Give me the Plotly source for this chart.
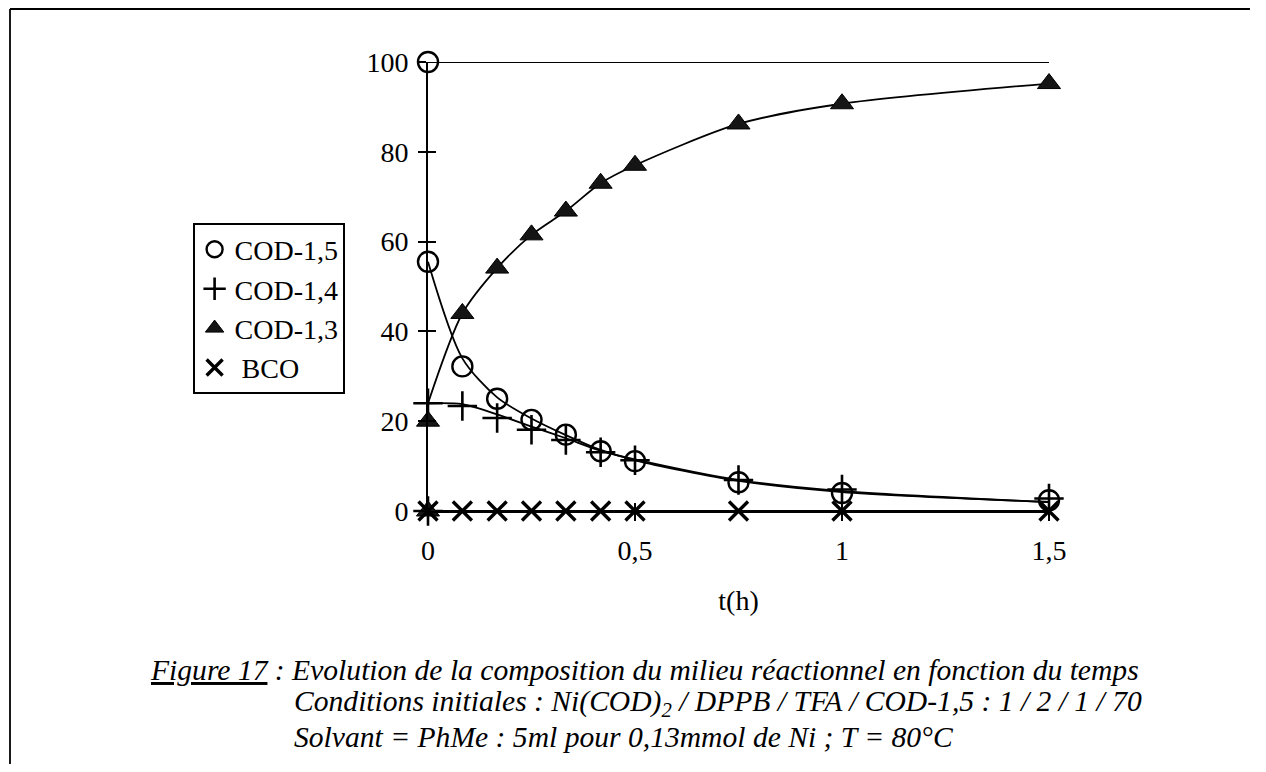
import plotly.graph_objects as go

# ---- data ----
t = [0, 0.083, 0.167, 0.25, 0.333, 0.417, 0.5, 0.75, 1, 1.5]
cod15 = [55.5, 32.2, 25.0, 20.3, 17.0, 13.3, 11.1, 6.4, 4.0, 2.4]
cod14 = [24.0, 23.4, 20.7, 18.1, 15.8, 13.1, 11.3, 6.9, 4.8, 2.8]
cod13 = [20.0, 44.0, 54.1, 61.5, 66.8, 73.0, 77.0, 86.2, 90.7, 95.2]
bco = [0, 0, 0, 0, 0, 0, 0, 0, 0, 0]

# initial composition at t = 0
t_init = [0]
cod15_init = [100]
cod14_init = [0]
cod13_init = [0]

# smoothed curves as drawn
cod15_curve = [55.5, 34.0, 25.3, 20.6, 16.9, 13.6, 11.3, 6.7, 4.2, 2.0]
cod14_curve = [24.0, 23.8, 21.5, 18.8, 16.2, 13.4, 11.5, 6.9, 4.4, 2.0]
cod13_curve = [24.0, 44.0, 54.1, 61.5, 66.8, 73.0, 77.0, 86.2, 90.7, 95.2]

t_total = [0, 1.5]
total = [100, 100]

x_ticks = [0, 0.5, 1, 1.5]
x_ticktext = ["0", "0,5", "1", "1,5"]
y_ticks = [0, 20, 40, 60, 80, 100]

series_names = ["COD-1,5", "COD-1,4", "COD-1,3", "\u00a0BCO"]

# ---- layout geometry (page has an 8px body margin) ----
OFF = 8
W, H = 1250, 756
L, T = 428 - OFF, 62 - OFF
PW, PH = 1049 - 428, 511 - 62
R, B = W - L - PW, H - T - PH


def px(xp):
    return (xp - OFF - L) / PW


def py(yp):
    return (T + PH - (yp - OFF)) / PH


FONT = "Liberation Serif"
BLACK = "#000000"
FS = 28

fig = go.Figure()

# curves (no legend)
for ys in [cod15_curve, cod14_curve, cod13_curve]:
    fig.add_trace(go.Scatter(x=t, y=ys, mode="lines", line=dict(color=BLACK, width=1.8, shape="spline", smoothing=0.8),
                             showlegend=False, hoverinfo="skip"))
fig.add_trace(go.Scatter(x=t_total, y=total, mode="lines", line=dict(color=BLACK, width=1.8),
                         showlegend=False, hoverinfo="skip"))
fig.add_trace(go.Scatter(x=t, y=bco, mode="lines", line=dict(color=BLACK, width=1.8),
                         showlegend=False, hoverinfo="skip"))

# markers
fig.add_trace(go.Scatter(x=t_init + t, y=cod15_init + cod15, mode="markers", name=series_names[0],
                         marker=dict(symbol="circle-open", size=20, color=BLACK, line=dict(width=2.4, color=BLACK)),
                         cliponaxis=False))
fig.add_trace(go.Scatter(x=t_init + t, y=cod14_init + cod14, mode="markers", name=series_names[1],
                         marker=dict(symbol="cross-thin-open", size=21, color=BLACK, line=dict(width=2.6, color=BLACK)),
                         cliponaxis=False))
fig.add_trace(go.Scatter(x=t_init + t, y=cod13_init + cod13, mode="markers", name=series_names[2],
                         marker=dict(symbol="triangle-up", size=20, color="#151515", line=dict(width=1, color=BLACK)),
                         cliponaxis=False))
fig.add_trace(go.Scatter(x=t, y=bco, mode="markers", name=series_names[3],
                         marker=dict(symbol="x-thin-open", size=19, color=BLACK, line=dict(width=3.4, color=BLACK)),
                         cliponaxis=False))

fig.update_layout(
    width=W, height=H,
    margin=dict(l=L, r=R, t=T, b=B, pad=0),
    paper_bgcolor="white", plot_bgcolor="white",
    font=dict(family=FONT, size=FS, color=BLACK),
    xaxis=dict(range=[0, 1.5], tickvals=x_ticks, ticktext=x_ticktext, showgrid=False, zeroline=False,
               showline=True, linecolor=BLACK, linewidth=1.8, ticks="outside", ticklen=8, tickwidth=1.8,
               tickcolor=BLACK, tickfont=dict(family=FONT, size=FS), ticklabelstandoff=5,
               title=dict(text="t(h)", font=dict(family=FONT, size=FS), standoff=26)),
    yaxis=dict(range=[0, 100], tickvals=y_ticks, showgrid=False, zeroline=False,
               showline=True, linecolor=BLACK, linewidth=1.8, ticks="outside", ticklen=8, tickwidth=1.8,
               tickcolor=BLACK, tickfont=dict(family=FONT, size=FS), ticklabelstandoff=4),
    xaxis2=dict(range=[0, 1.5], overlaying="x", side="bottom", anchor="y", tickvals=x_ticks[1:],
                showticklabels=False, showgrid=False, zeroline=False, showline=False,
                ticks="inside", ticklen=8, tickwidth=1.8, tickcolor=BLACK),
    yaxis2=dict(range=[0, 100], overlaying="y", side="left", anchor="x", tickvals=y_ticks[1:-1],
                showticklabels=False, showgrid=False, zeroline=False, showline=False,
                ticks="inside", ticklen=8, tickwidth=1.8, tickcolor=BLACK),
    legend=dict(x=px(193), y=py(223), xanchor="left", yanchor="top", bgcolor="white",
                bordercolor=BLACK, borderwidth=1.6, font=dict(family=FONT, size=FS, color=BLACK),
                itemwidth=30, tracegroupgap=0),
    showlegend=True,
)

# dummy trace to activate secondary axes (crossing ticks)
fig.add_trace(go.Scatter(x=[None], y=[None], xaxis="x2", yaxis="y2", showlegend=False, hoverinfo="skip"))

caption_lines = [
    "<i><u>Figure 17</u> : Evolution de la composition du milieu réactionnel en fonction du temps</i>",
    "<i>Conditions initiales : Ni(COD)<sub>2</sub> / DPPB / TFA / COD-1,5 : 1 / 2 / 1 / 70</i>",
    "<i>Solvant = PhMe : 5ml pour 0,13mmol de Ni ; T = 80°C</i>",
]
caption_pos = [(148, 670), (292, 703), (292, 737)]
for txt, (xp, yp) in zip(caption_lines, caption_pos):
    fig.add_annotation(text=txt, xref="paper", yref="paper", x=px(xp), y=py(yp), xanchor="left",
                       yanchor="middle", showarrow=False, font=dict(family=FONT, size=29.6, color=BLACK))

# outer frame of the figure (left and top edges visible)
fx0, fy0, fx1, fy1 = px(10), py(9), px(1250), py(770)
fig.add_shape(type="line", xref="paper", yref="paper", x0=fx0, x1=fx0, y0=fy1, y1=fy0,
              line=dict(color=BLACK, width=1.8), layer="below")
fig.add_shape(type="line", xref="paper", yref="paper", x0=fx0, x1=fx1, y0=fy0, y1=fy0,
              line=dict(color=BLACK, width=1.8), layer="below")

fig.write_html("out.html")
